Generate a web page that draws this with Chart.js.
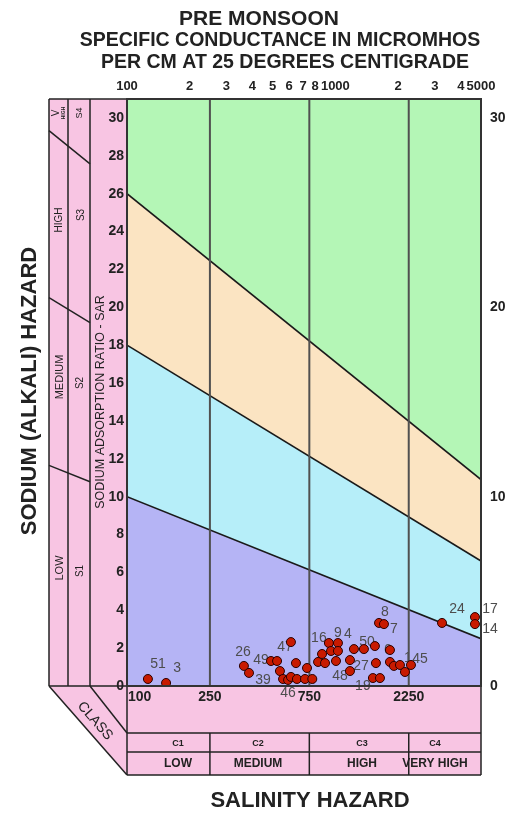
<!DOCTYPE html>
<html>
<head>
<meta charset="utf-8">
<script src="https://cdn.jsdelivr.net/npm/chart.js@4.4.1/dist/chart.umd.min.js"></script>
<style>
  html, body { margin: 0; padding: 0; background: #fff; }
  canvas { display: block; }
</style>
</head>
<body>
<canvas id="wilcox" width="517" height="816"></canvas>
<script>
// samples: specific conductance (micromhos/cm) and SAR
const sampleLabels = ['51', '3', '26', '', '49', '', '', '39', '46', '', '47', '', '', '', '', '', '', '', '', '16', '', '', '9', '', '', '48', '4', '50', '', '27', '19', '', '8', '7', '', '', '6', '1', '', '45', '24', '17', '14'];
const ecValues = [126, 154, 364, 385, 491, 525, 542, 561, 593, 612, 612, 647, 654, 715, 731, 775, 826, 863, 892, 931, 953, 1007, 1029, 1029, 1175, 1175, 1228, 1371, 1548, 1566, 1514, 1637, 1620, 1711, 1828, 1828, 1910, 2042, 2158, 2306, 3250, 4677, 4677];
const sarValues = [0.37, 0.16, 1.06, 0.69, 1.32, 1.32, 0.79, 0.37, 0.32, 0.48, 2.32, 1.21, 0.37, 0.37, 0.95, 0.37, 1.27, 1.69, 1.21, 2.27, 1.85, 1.32, 2.27, 1.85, 1.37, 0.79, 1.95, 1.95, 2.11, 1.21, 0.42, 0.42, 3.33, 3.27, 1.90, 1.27, 1.06, 1.11, 0.74, 1.11, 3.33, 3.64, 3.27];

// USSL class boundaries (SAR at EC = 100 and 5000)
const boundaryEc = [100, 5000];
const s1s2Sar = [10, 2.5];
const s2s3Sar = [18, 6.6];
const s3s4Sar = [26, 10.9];
const sarMax = 31;
const salinityBreaks = [250, 750, 2250];

const topTickValues = [100, 200, 300, 400, 500, 600, 700, 800, 1000, 2000, 3000, 4000, 5000];
const topTickLabels = ['100', '2', '3', '4', '5', '6', '7', '8', '1000', '2', '3', '4', '5000'];
const bottomTickValues = [100, 250, 750, 2250];
const sarTicks = [0, 2, 4, 6, 8, 10, 12, 14, 16, 18, 20, 22, 24, 26, 28, 30];
const rightTicks = [0, 10, 20, 30];
const salinityClasses = ['C1', 'C2', 'C3', 'C4'];
const salinityNames = ['LOW', 'MEDIUM', 'HIGH', 'VERY HIGH'];

// where each sample number sits relative to its dot (text centre, px)
const labelOffsets = {
    '51': [10, -15], '3': [11, -15], '26': [-1, -14], '49': [-10, -1], '39': [-20, 1],
    '46': [0, 13], '47': [-6, 5], '16': [-10, -5], '9': [0, -10], '4': [-6, -15],
    '50': [3, -7], '27': [-15, 3], '48': [-10, 5], '19': [-10, 8], '8': [6, -11],
    '7': [10, 5], '6': [-6, -16], '1': [8, -7], '45': [9, -6], '24': [15, -14],
    '17': [15, -8], '14': [15, 5]
};

const PINK = '#f8c5e3';
const LINE = '#222';
const FONT = '"Liberation Sans", Arial, sans-serif';
const font = (size, bold) => (bold ? 'bold ' : '') + size + 'px ' + FONT;

const PANEL_L = 49, COL_1 = 68, COL_2 = 90;
const ROW_A = 733, ROW_B = 752, ROW_C = 775;

const text = (ctx, str, x, y, f, align, rot) => {
    ctx.save();
    ctx.translate(x, y);
    if (rot) ctx.rotate(rot);
    ctx.font = f;
    ctx.textAlign = align || 'center';
    ctx.textBaseline = 'middle';
    ctx.fillText(str, 0, 0);
    ctx.restore();
};

const line = (ctx, x1, y1, x2, y2) => {
    ctx.beginPath();
    ctx.moveTo(x1, y1);
    ctx.lineTo(x2, y2);
    ctx.stroke();
};

const toXY = sar => boundaryEc.map((ec, i) => ({ x: ec, y: sar[i] }));

const panels = {
    id: 'panels',
    beforeDraw(chart) {
        const { ctx, chartArea: a } = chart;
        ctx.save();
        ctx.fillStyle = '#fff';
        ctx.fillRect(0, 0, chart.width, chart.height);
        ctx.fillStyle = PINK;
        ctx.fillRect(PANEL_L, a.top, a.left - PANEL_L, a.bottom - a.top);
        ctx.fillRect(a.left, a.bottom, a.right - a.left, ROW_C - a.bottom);
        ctx.beginPath();
        ctx.moveTo(PANEL_L, a.bottom);
        ctx.lineTo(a.left, a.bottom);
        ctx.lineTo(a.left, ROW_C);
        ctx.closePath();
        ctx.fill();
        ctx.restore();
    },
    beforeDatasetDraw(chart, args) {
        if (args.index !== 0) return;
        const ctx = chart.ctx;
        ctx.save();
        ctx.fillStyle = '#4d4d4d';
        args.meta.data.forEach((el, i) => {
            const lab = sampleLabels[i];
            if (!lab) return;
            const off = labelOffsets[lab] || [10, -14];
            text(ctx, lab, el.x + off[0], el.y + off[1], font(14, false));
        });
        ctx.restore();
    },
    afterDraw(chart) {
        const { ctx, chartArea: a } = chart;
        const xs = chart.scales.x, ys = chart.scales.y;
        ctx.save();
        ctx.strokeStyle = LINE;
        ctx.lineWidth = 1.5;

        // left SAR panel
        [PANEL_L, COL_1, COL_2].forEach(x => line(ctx, x, a.top, x, a.bottom));
        line(ctx, PANEL_L, a.top, a.left, a.top);
        [s1s2Sar, s2s3Sar, s3s4Sar].forEach(sar => {
            const x1 = xs.getPixelForValue(boundaryEc[0]), y1 = ys.getPixelForValue(sar[0]);
            const x2 = xs.getPixelForValue(boundaryEc[1]), y2 = ys.getPixelForValue(sar[1]);
            const k = (y2 - y1) / (x2 - x1);
            line(ctx, PANEL_L, y1 + k * (PANEL_L - x1), COL_2, y1 + k * (COL_2 - x1));
        });

        // bottom class panel
        line(ctx, PANEL_L, a.bottom, a.right, a.bottom);
        [ROW_A, ROW_B, ROW_C].forEach(y => line(ctx, a.left, y, a.right, y));
        line(ctx, a.left, a.bottom, a.left, ROW_C);
        line(ctx, a.right, a.bottom, a.right, ROW_C);
        salinityBreaks.forEach(ec => {
            const x = xs.getPixelForValue(ec);
            line(ctx, x, ROW_A, x, ROW_C);
        });
        line(ctx, PANEL_L, a.bottom, a.left, ROW_C);
        line(ctx, COL_2, a.bottom, a.left, ROW_A);

        ctx.lineWidth = 2;
        ctx.strokeStyle = '#333';
        ctx.strokeRect(a.left, a.top, a.right - a.left, a.bottom - a.top);

        // texts
        ctx.fillStyle = '#222';
        text(ctx, 'PRE MONSOON', 259, 19, font(21, true));
        text(ctx, 'SPECIFIC CONDUCTANCE IN MICROMHOS', 280, 41, font(19.5, true));
        text(ctx, 'PER CM AT 25 DEGREES CENTIGRADE', 285, 63, font(19.5, true));
        text(ctx, 'SODIUM (ALKALI) HAZARD', 30, 391, font(22, true), 'center', -Math.PI / 2);
        text(ctx, 'SALINITY HAZARD', 310, 801, font(22, true));
        text(ctx, 'SODIUM ADSORPTION RATIO - SAR', 101, 402, font(12.5, false), 'center', -Math.PI / 2);

        const up = -Math.PI / 2;
        text(ctx, 'V', 56, 113, font(10, false), 'center', up);
        text(ctx, 'HIGH', 64, 113, font(5, true), 'center', up);
        text(ctx, 'HIGH', 59, 220, font(10, false), 'center', up);
        text(ctx, 'MEDIUM', 60, 377, font(11, false), 'center', up);
        text(ctx, 'LOW', 60, 568, font(11, false), 'center', up);
        text(ctx, 'S4', 80, 113, font(9, false), 'center', up);
        text(ctx, 'S3', 81, 215, font(10, false), 'center', up);
        text(ctx, 'S2', 80, 383, font(10, false), 'center', up);
        text(ctx, 'S1', 80, 571, font(10, false), 'center', up);
        text(ctx, 'CLASS', 95, 721, font(14, false), 'center', Math.atan2(ROW_C - a.bottom, a.left - PANEL_L));

        bottomTickValues.forEach((v, i) => {
            const x = xs.getPixelForValue(v);
            if (i === 0) text(ctx, String(v), x + 1, a.bottom + 11, font(14, true), 'left');
            else text(ctx, String(v), x, a.bottom + 11, font(14, true));
        });

        const classX = [178, 258, 362, 435];
        salinityClasses.forEach((c, i) => text(ctx, c, classX[i], 744, font(9, true)));
        salinityNames.forEach((n, i) => text(ctx, n, classX[i], 764, font(12, true)));
        ctx.restore();
    }
};

const lineSet = (data, fillColor, fill, order) => ({
    type: 'line',
    data: data,
    borderColor: '#1a1a1a',
    borderWidth: 1.6,
    pointRadius: 0,
    backgroundColor: fillColor,
    fill: fill,
    order: order
});

const datasets = [
    {
        type: 'scatter',
        data: ecValues.map((ec, i) => ({ x: ec, y: sarValues[i] })),
        backgroundColor: '#c81a00',
        borderColor: '#2a0000',
        borderWidth: 1,
        pointRadius: 4.5,
        order: 0
    },
    lineSet(toXY(s1s2Sar), '#b5b4f5', 'origin', 2),
    lineSet(toXY(s2s3Sar), '#b6eef9', '-1', 2),
    lineSet(toXY(s3s4Sar), '#fbe4c2', '-1', 2),
    Object.assign(lineSet(toXY([sarMax, sarMax]), '#b4f6b6', '-1', 3), { borderWidth: 0 })
];
salinityBreaks.forEach(ec => datasets.push({
    type: 'line',
    data: [{ x: ec, y: 0 }, { x: ec, y: sarMax }],
    borderColor: '#505050',
    borderWidth: 2,
    pointRadius: 0,
    fill: false,
    order: 1
}));

new Chart(document.getElementById('wilcox'), {
    type: 'scatter',
    data: { datasets: datasets },
    options: {
        responsive: false,
        animation: false,
        devicePixelRatio: 1,
        layout: { padding: { left: 47, right: 0, top: 78, bottom: 130 } },
        plugins: {
            legend: { display: false },
            tooltip: { enabled: false },
            filler: { drawTime: 'beforeDatasetsDraw' }
        },
        scales: {
            x: {
                type: 'logarithmic',
                position: 'top',
                min: 100,
                max: 5000,
                grid: { display: false, drawTicks: false },
                border: { display: false },
                ticks: {
                    autoSkip: false,
                    maxRotation: 0,
                    padding: 5,
                    color: '#222',
                    font: { family: FONT, size: 13, weight: 'bold' },
                    callback: (v, i) => topTickLabels[i]
                },
                afterBuildTicks: s => { s.ticks = topTickValues.map(v => ({ value: v })); },
                afterFit: s => { s.height = 21; }
            },
            y: {
                type: 'linear',
                position: 'left',
                min: 0,
                max: sarMax,
                grid: { display: false, drawTicks: false },
                border: { display: false },
                ticks: {
                    autoSkip: false,
                    padding: 3,
                    color: '#222',
                    font: { family: FONT, size: 14, weight: 'bold' }
                },
                afterBuildTicks: s => { s.ticks = sarTicks.map(v => ({ value: v })); },
                afterFit: s => { s.width = 80; }
            },
            y2: {
                type: 'linear',
                position: 'right',
                min: 0,
                max: sarMax,
                grid: { display: false, drawTicks: false },
                border: { display: false },
                ticks: {
                    autoSkip: false,
                    padding: 9,
                    color: '#222',
                    font: { family: FONT, size: 14, weight: 'bold' }
                },
                afterBuildTicks: s => { s.ticks = rightTicks.map(v => ({ value: v })); },
                afterFit: s => { s.width = 36; }
            }
        }
    },
    plugins: [panels]
});
</script>
</body>
</html>
